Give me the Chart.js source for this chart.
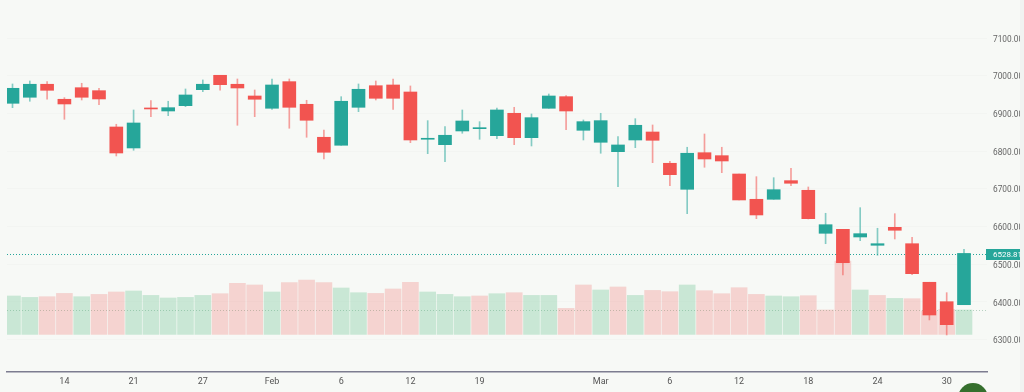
<!DOCTYPE html>
<html lang="en">
<head>
<meta charset="UTF-8">
<title>Candlestick chart</title>
<script src="https://cdn.jsdelivr.net/npm/chart.js"></script>
<style>
  html, body { margin: 0; padding: 0; background: #f1f2f1; overflow: hidden; }
  #wrap { position: relative; width: 1024px; height: 392px; overflow: hidden; }
  #myChart { position: absolute; left: 0; top: 0; background: #f7f9f6; filter: blur(0.35px); }
  #dot { position: absolute; left: 958px; top: 383px; width: 30px; height: 30px; border-radius: 50%; background: #356f2d; }
</style>
</head>
<body>
<div id="wrap">
  <canvas id="myChart" width="1020" height="392"></canvas>
  <div id="dot"></div>
</div>
<script>
// values
const opens = [6927,6943,6977.5,6937.7,6968.4,6960.5,6864.2,6808.5,6912.7,6906.6,6920.7,6963.1,7001.3,6977.5,6946.4,6913.8,6984.4,6924.4,6836.9,6815.7,
  6916.4,6973.7,6975.6,6957,6831.6,6817.2,6853.6,6859.7,6841.1,6900.5,6835.8,6913.8,6944.6,6855.4,6823.6,6798.7,6829.7,6850.9,6767.9,6698.9,
  6796,6788.1,6739.5,6672.4,6672.4,6721.8,6696.3,6582.2,6592.8,6572.4,6550.4,6598.1,6554.6,6452.3,6400.8,6392.8];
const closes = [6966.8,6977.5,6961.5,6925.2,6943,6938.5,6795.2,6874.8,6912,6915.4,6949.1,6977.5,6976.4,6967.6,6937.7,6975.6,6916.4,6882,6797.1,6932.4,
  6964.2,6940.3,6940.3,6829.7,6834.2,6842.2,6880.1,6860.7,6909.3,6835.8,6888.9,6946.4,6906.6,6878.3,6881,6816.5,6868.7,6828.9,6737.7,6794.5,
  6779.3,6774,6670.6,6630.8,6697.9,6714.9,6621,6605,6504.2,6581.2,6554.6,6590.2,6475.1,6365.5,6339.8,6528.81];
const highs = [6978.3,6986.2,6984.4,6942,6980.1,6966.8,6871.4,6909.3,6934,6932.4,6965,6988.9,7001.3,6991.5,6962.3,6991.5,6991.5,6935,6856.2,6944.6,
  6978.3,6986.2,6991.5,6973,6881,6865,6909.3,6878.3,6914.6,6916.4,6898.7,6951.7,6947.2,6882.8,6900.5,6838.5,6886.2,6869.5,6773.2,6810.4,
  6845.6,6810.4,6739.5,6732.4,6729.7,6754.6,6705,6635.3,6592.8,6650.2,6595.5,6634.2,6571.6,6452.3,6424.7,6539.8];
const lows = [6915.4,6932.4,6937.7,6884.6,6935.8,6923.4,6787.3,6802.4,6891.5,6894.2,6918,6957.8,6961.5,6868.7,6891.5,6911.1,6860.8,6836.9,6779.3,6815.7,
  6904.8,6935.8,6911.1,6822.5,6793.4,6772.1,6847.5,6831.6,6833.2,6817.2,6813.8,6913.8,6857,6829.7,6794.5,6705.8,6809.3,6769.5,6708.5,6634.2,
  6757.3,6743,6670.6,6621,6672.4,6708.5,6620.2,6554.6,6471.6,6562.6,6523.9,6567.1,6472.4,6352.3,6312.5,6392.8];
const volumes = [38.4,37,37.7,41,37.7,40,42.4,43.4,39,36.4,37,39,40.7,51,49.4,42.4,51.7,54.4,51.7,46.4,
  41.7,41,45.4,52,42.4,40,37.7,38.4,40.7,41.7,39,39,26,49.4,44.4,47.4,39,44,42.7,49.4,
  43.7,40.7,46.7,40,38.4,37.7,38.7,24.4,73.4,44.4,39,36,35.7,23.4,25,24.4];
const volumeUp = [1,1,0,0,1,0,0,1,1,1,1,1,0,0,0,1,0,0,0,1,
  1,0,0,0,1,1,1,0,1,0,1,1,0,0,1,0,1,0,0,1,
  0,0,0,0,1,1,0,0,0,1,0,1,0,0,0,1];
const tickIndex = [3,7,11,15,19,23,27,34,38,42,46,50,54];
const tickLabels = ['14','21','27','Feb','6','12','19','Mar','6','12','18','24','30'];
const priceTicks = [6300,6400,6500,6600,6700,6800,6900,7000,7100];
const lastPrice = 6528.81;
const lastVolume = 24.4;

const GREEN = '#26a69a', RED = '#f25450';
const VOL_GREEN = 'rgba(82,186,128,0.28)', VOL_RED = 'rgba(238,90,88,0.24)';
const up = closes.map((c, i) => c >= opens[i]);
const candleColors = up.map(u => u ? GREEN : RED);
const wickColors = up.map(u => u ? 'rgba(38,166,154,0.55)' : 'rgba(242,84,80,0.55)');

// dotted last-value lines and the price tag on the axis
const lastValue = {
  id: 'lastValue',
  beforeDatasetsDraw(chart) {
    const { ctx, chartArea: a, scales } = chart;
    ctx.save();
    ctx.lineWidth = 1;
    ctx.setLineDash([1, 2]);
    ctx.strokeStyle = GREEN;
    const py = Math.ceil(scales.y.getPixelForValue(lastPrice)) + 0.5;
    ctx.beginPath(); ctx.moveTo(a.left, py); ctx.lineTo(a.right, py); ctx.stroke();
    ctx.strokeStyle = 'rgba(120,170,140,0.5)';
    const vy = Math.round(scales.vol.getPixelForValue(lastVolume)) + 0.5;
    ctx.beginPath(); ctx.moveTo(a.left, vy); ctx.lineTo(a.right, vy); ctx.stroke();
    ctx.restore();
  },
  afterDraw(chart) {
    const { ctx, chartArea: a, scales } = chart;
    const py = Math.ceil(scales.y.getPixelForValue(lastPrice)) + 0.5;
    ctx.save();
    ctx.fillStyle = GREEN;
    ctx.fillRect(a.right - 1, py - 5.5, 40, 11);
    ctx.fillStyle = '#fff';
    ctx.font = '8px Roboto, sans-serif';
    ctx.textBaseline = 'middle';
    ctx.fillText(lastPrice.toFixed(2), a.right + 6, py + 0.5);
    ctx.restore();
  }
};

new Chart(document.getElementById('myChart').getContext('2d'), {
  type: 'bar',
  data: {
    datasets: [
      {
        label: 'Volume', yAxisID: 'vol', order: 3, grouped: false, barThickness: 16,
        data: volumes.map((v, i) => ({ x: i, y: v })),
        backgroundColor: volumeUp.map(u => u ? VOL_GREEN : VOL_RED)
      },
      {
        label: 'Wick', yAxisID: 'y', order: 2, grouped: false, barThickness: 1,
        data: highs.map((h, i) => ({ x: i, y: [lows[i], h] })),
        backgroundColor: wickColors
      },
      {
        label: 'Body', yAxisID: 'y', order: 1, grouped: false, barThickness: 13,
        data: opens.map((o, i) => ({ x: i, y: [o, closes[i]] })),
        backgroundColor: candleColors, minBarLength: 1
      }
    ]
  },
  options: {
    responsive: false,
    animation: false,
    layout: { padding: { left: 7, top: 0, right: 0, bottom: 0 } },
    plugins: { legend: { display: false }, tooltip: { enabled: false } },
    scales: {
      x: {
        type: 'linear', min: -0.318, max: 56.33, offset: false,
        grid: { display: false, drawTicks: false },
        border: { color: '#7d7d90', width: 1.5 },
        ticks: {
          autoSkip: false, maxRotation: 0, padding: 4, color: '#555',
          font: { family: 'Roboto, sans-serif', size: 9 },
          callback: v => tickLabels[tickIndex.indexOf(v)]
        },
        afterBuildTicks: s => { s.ticks = tickIndex.map(v => ({ value: v })); },
        afterFit: s => { s.height = 20; s.paddingLeft = 0; s.paddingRight = 0; }
      },
      y: {
        position: 'right', min: 6214.3, max: 7201,
        grid: { color: 'rgba(0,0,0,0.015)', drawTicks: false },
        border: { display: false },
        ticks: {
          padding: 6, color: '#666', align: 'center', labelOffset: 1.5,
          font: { family: 'Roboto, sans-serif', size: 8.3 },
          callback: v => v.toFixed(2)
        },
        afterBuildTicks: s => { s.ticks = priceTicks.map(v => ({ value: v })); },
        afterFit: s => { s.width = 33; s.paddingTop = 0; s.paddingBottom = 0; }
      },
      vol: { display: false, position: 'left', min: -37.6, max: 334.4 }
    }
  },
  plugins: [lastValue]
});
</script>
</body>
</html>
